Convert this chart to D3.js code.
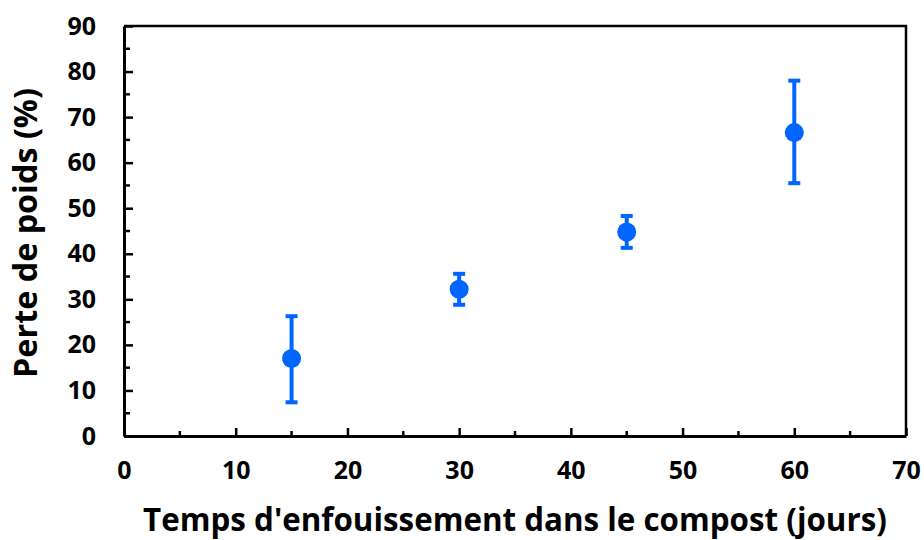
<!DOCTYPE html>
<html><head><meta charset="utf-8">
<script src="https://cdn.jsdelivr.net/npm/d3@7"></script>
<style>body{margin:0;background:#fff}svg{display:block}text{font-family:"Open Sans",sans-serif;font-weight:bold;fill:#000}</style>
</head><body>
<svg id="c" width="924" height="540"></svg>
<script>
const days = [15, 30, 45, 60];
const weightLoss = [17.0, 32.2, 44.8, 66.6];
const errLow = [7.4, 28.8, 41.3, 55.5];
const errHigh = [26.3, 35.6, 48.3, 78.0];
const xTicks = [0, 10, 20, 30, 40, 50, 60, 70];
const yTicks = [0, 10, 20, 30, 40, 50, 60, 70, 80, 90];
const xTitle = "Temps d'enfouissement dans le compost (jours)";
const yTitle = "Perte de poids (%)";

const svg = d3.select("#c");
const L = 124, R = 906, T = 26, B = 436;
const x = d3.scaleLinear().domain([0, 70]).range([L, R]);
const y = d3.scaleLinear().domain([0, 90]).range([B, T]);
const blue = "#0066ff";

// frame top/right
svg.append("path").attr("d", `M${L},${T}H${R}V${B}`).attr("fill","none").attr("stroke","#000").attr("stroke-width",2.5);

// minor ticks
const xMinor = d3.range(5, 70, 10);
const yMinor = d3.range(5, 90, 10);
svg.selectAll(".xm").data(xMinor).join("line").attr("x1",d=>x(d)).attr("x2",d=>x(d)).attr("y1",B).attr("y2",B-5).attr("stroke","#000").attr("stroke-width",2.5);
svg.selectAll(".ym").data(yMinor).join("line").attr("y1",d=>y(d)).attr("y2",d=>y(d)).attr("x1",L).attr("x2",L+6).attr("stroke","#000").attr("stroke-width",2.5);

// axes
const xAxis = d3.axisBottom(x).tickValues(xTicks).tickSizeInner(-8).tickSizeOuter(0).tickPadding(25);
const gx = svg.append("g").attr("transform",`translate(0,${B})`).call(xAxis);
const yAxis = d3.axisLeft(y).tickValues(yTicks).tickSizeInner(-9).tickSizeOuter(0).tickPadding(28);
const gy = svg.append("g").attr("transform",`translate(${L},0)`).call(yAxis);
[gx, gy].forEach(g => {
  g.select(".domain").attr("stroke","#000").attr("stroke-width",3);
  g.selectAll(".tick line").attr("stroke","#000").attr("stroke-width",2.5);
  g.selectAll(".tick text").style("font-size","25px").style("font-weight","bold").style("font-family","'Open Sans',sans-serif").attr("fill","#000");
});
gx.selectAll(".tick text").attr("dy","0.71em");

// error bars
const pts = days.map((d,i)=>({x:d, v:weightLoss[i], lo:errLow[i], hi:errHigh[i]}));
const g = svg.append("g");
g.selectAll(".eb").data(pts).join("line").attr("x1",d=>x(d.x)).attr("x2",d=>x(d.x)).attr("y1",d=>y(d.lo)).attr("y2",d=>y(d.hi)).attr("stroke",blue).attr("stroke-width",4);
g.selectAll(".ct").data(pts).join("line").attr("x1",d=>x(d.x)-6).attr("x2",d=>x(d.x)+6).attr("y1",d=>y(d.hi)).attr("y2",d=>y(d.hi)).attr("stroke",blue).attr("stroke-width",4);
g.selectAll(".cb").data(pts).join("line").attr("x1",d=>x(d.x)-6).attr("x2",d=>x(d.x)+6).attr("y1",d=>y(d.lo)).attr("y2",d=>y(d.lo)).attr("stroke",blue).attr("stroke-width",4);
g.selectAll("circle").data(pts).join("circle").attr("cx",d=>x(d.x)).attr("cy",d=>y(d.v)).attr("r",9.5).attr("fill",blue);

// titles
function fit(t, w){ let fs = 28; t.style("font-size",fs+"px"); const l = t.node().getComputedTextLength(); t.style("font-size",(fs*w/l)+"px"); }
const xt = svg.append("text").attr("x",515).attr("y",531).attr("text-anchor","middle").text(xTitle);
fit(xt, 744);
const yt = svg.append("text").attr("transform","translate(37,233) rotate(-90)").attr("text-anchor","middle").text(yTitle);
fit(yt, 290);
</script>
</body></html>
